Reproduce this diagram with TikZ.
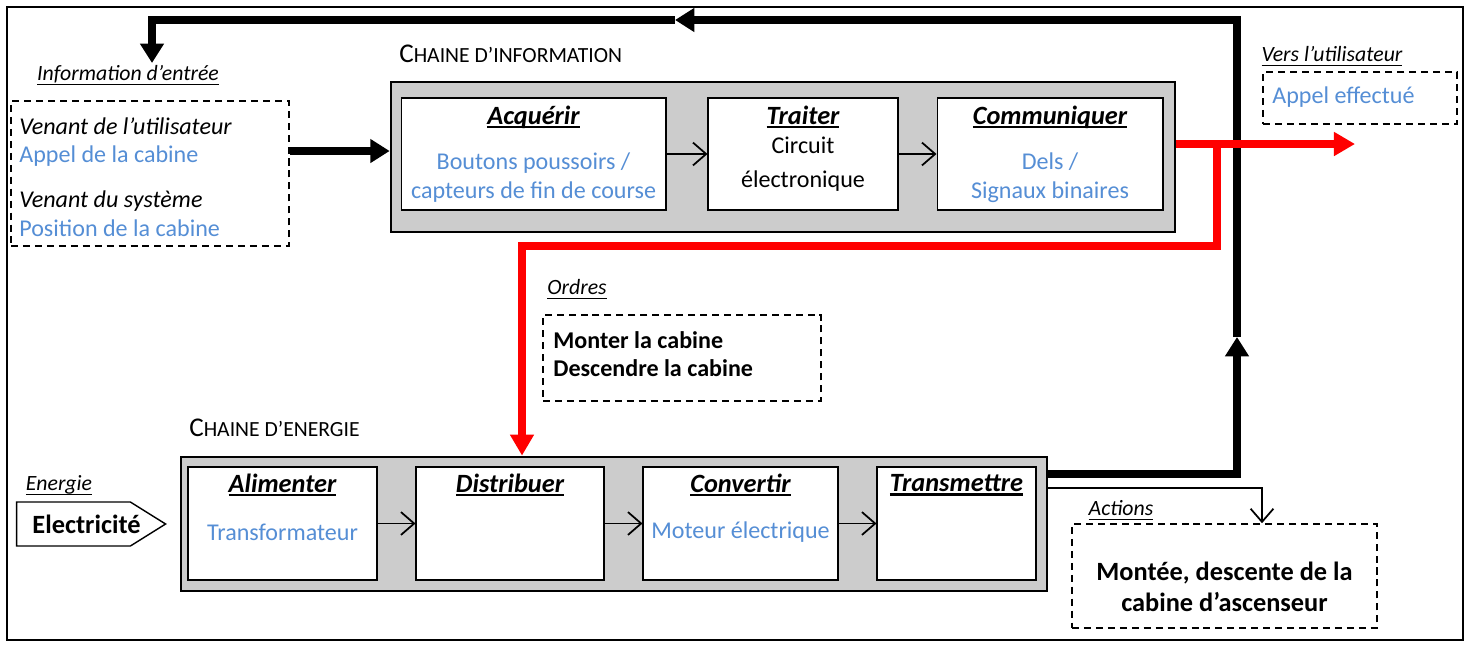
\documentclass[tikz,border=0pt]{standalone}
\usepackage{fontspec}
\setmainfont{Carlito}
\usetikzlibrary{arrows.meta,shapes.symbols}
\definecolor{ink}{HTML}{000000}
\definecolor{bleu}{HTML}{558ED5}
\definecolor{rouge}{HTML}{FF0000}
\definecolor{gris}{HTML}{CCCCCC}

\newsavebox\ulbox
\newcommand\souligne[2][0.6pt]{\sbox\ulbox{#2}\rlap{\rule[-2.4pt]{\wd\ulbox}{#1}}\usebox\ulbox}
\newcommand\petitcap[2]{{\fontsize{15.4}{17}\selectfont #1}{\fontsize{12.3}{14}\selectfont #2}}

\tikzset{
  chaine/.style={draw=ink,line width=1.6pt,fill=gris},
  bloc/.style={draw=ink,line width=0.6pt,fill=white,minimum height=2.26cm},
  tirets/.style={draw=ink,line width=0.9pt,dash pattern=on 4pt off 2.8pt},
  titre/.style={font=\fontsize{15}{17}\selectfont\bfseries\itshape},
  etiq/.style={font=\fontsize{12.4}{14}\selectfont\itshape},
  gras/.style={font=\fontsize{13.7}{16}\selectfont\bfseries},
  flux/.style={ink,line width=4pt,-{Triangle[length=11pt,width=13pt]}},
  ordre/.style={rouge,line width=4.5pt,-{Triangle[length=12pt,width=13pt]}},
  fleche/.style={ink,line width=1pt,-{Straight Barb[length=7.5pt,width=13pt]}},
}

\begin{document}
\begin{tikzpicture}[x=0.02cm,y=-0.02cm,inner sep=0pt,font=\fontsize{13.7}{16.4}\selectfont]
  \useasboundingbox (0,0) rectangle (1471,646);
  % cadre
  \draw[ink,line width=1.1pt] (7,7) rectangle (1463,640);

  % entree
  \node[etiq] (inT) at (128,75) {\souligne{Information d’entrée}};
  \node[tirets,minimum width=5.56cm,minimum height=2.9cm] (inbox) at (150,173.5) {};
  \node[anchor=west,align=left] (inC) at (19,177) {\textit{Venant de l’utilisateur}\\\textcolor{bleu}{Appel de la cabine}\\[9pt]\textit{Venant du système}\\\textcolor{bleu}{Position de la cabine}};

  % chaine d'information
  \node[anchor=west] (infoT) at (399,54) {\petitcap{C}{HAINE D’INFORMATION}};
  \node[chaine,minimum width=15.68cm,minimum height=3cm] (info) at (783,157) {};
  \node[bloc,minimum width=5.3cm,minimum height=2.24cm] (acq) at (533.5,154) {};
  \node[bloc,minimum width=3.8cm,minimum height=2.24cm] (trai) at (803,154) {};
  \node[bloc,minimum width=4.52cm,minimum height=2.24cm] (comm) at (1050,154) {};
  \node[titre] (acqT) at (533.5,117) {\souligne[1.3pt]{Acquérir}};
  \node[titre] (traiT) at (803,117) {\souligne[1.3pt]{Traiter}};
  \node[titre] (commT) at (1050,117) {\souligne[1.3pt]{Communiquer}};
  \node[text=bleu,align=center] (acqC) at (533.5,177.5) {Boutons poussoirs /\\capteurs de fin de course};
  \node[align=center] (traiC) at (803,164) {Circuit\\[2.9pt]électronique};
  \node[text=bleu,align=center] (commC) at (1050,177.5) {Dels /\\Signaux binaires};
  \draw[fleche] (acq) -- (trai);
  \draw[fleche] (trai) -- (comm);

  % vers l'utilisateur
  \node[etiq] (userT) at (1332,56) {\souligne{Vers l’utilisateur}};
  \node[tirets,minimum width=3.88cm,minimum height=1.04cm] (user) at (1360,98) {};
  \node[anchor=west,text=bleu] (userC) at (1272,97) {Appel effectué};

  % ordres
  \node[etiq] (ordT) at (577,289) {\souligne{Ordres}};
  \node[tirets,minimum width=5.56cm,minimum height=1.72cm] (ord) at (682,358) {};
  \node[gras,anchor=west,align=left] (ordC) at (553,354) {Monter la cabine\\Descendre la cabine};

  % chaine d'energie
  \node[anchor=west] (nrjT) at (189,428) {\petitcap{C}{HAINE D’ENERGIE}};
  \node[chaine,minimum width=17.32cm,minimum height=2.68cm] (nrj) at (614,524) {};
  \node[bloc,minimum width=3.78cm] (alim) at (282.5,523.5) {};
  \node[bloc,minimum width=3.76cm] (dist) at (510,523.5) {};
  \node[bloc,minimum width=3.9cm] (conv) at (740.5,523.5) {};
  \node[bloc,minimum width=3.18cm] (trans) at (956.5,523.5) {};
  \node[titre] (alimT) at (282.5,485) {\souligne[1.3pt]{Alimenter}};
  \node[titre] (distT) at (510,485) {\souligne[1.3pt]{Distribuer}};
  \node[titre] (convT) at (740.5,485) {\souligne[1.3pt]{Convertir}};
  \node[titre] (transT) at (956.5,485) {\souligne[1.3pt]{Transmettre}};
  \node[text=bleu] (alimC) at (282.5,532) {Transformateur};
  \node[text=bleu] (convC) at (740.5,532) {Moteur électrique};
  \draw[fleche] (alim) -- (dist);
  \draw[fleche] (dist) -- (conv);
  \draw[fleche] (conv) -- (trans);

  % energie
  \node[etiq] (elecT) at (59,485) {\souligne{Energie}};
  \node[draw=ink,line width=0.8pt,fill=white,shape=signal,signal to=east,signal pointer angle=64,
        minimum width=2.98cm,minimum height=0.88cm] (elec) at (73.5,524) {};
  \node[font=\fontsize{15}{17}\selectfont\bfseries] (elecC) at (86.5,524) {Electricité};

  % actions
  \node[etiq] (actT) at (1121,510) {\souligne{Actions}};
  \node[tirets,minimum width=6.1cm,minimum height=2.08cm] (act) at (1224.5,576) {};
  \node[font=\fontsize{15}{18}\selectfont\bfseries,align=center] (actC) at (1224.5,587) {Montée, descente de la\\cabine d’ascenseur};

  % retour d'information
  \coordinate (coinBD) at (1237,474);
  \coordinate (flecheH) at (1237,337);
  \coordinate (coinHD) at (1237,20);
  \coordinate (flecheG) at (675,20);
  \coordinate (coinHG) at (152,20);
  \coordinate (entree) at (152,63);
  \draw[flux] (coinBD -| nrj.east) -- (coinBD) -- (flecheH);
  \draw[flux] (flecheH) -- (coinHD) -- (flecheG);
  \draw[flux] (flecheG) -- (coinHG) -- (entree);
  \draw[flux] ([yshift=0.12cm]inbox.east |- info.west) -- ([yshift=0.12cm]info.west);

  % ordres rouges
  \coordinate (rbranche) at (1217,144);
  \coordinate (rbas) at (1217,246);
  \coordinate (rcoin) at (522,246);
  \coordinate (sortie) at (1355,144);
  \draw[ordre] (rbranche -| info.east) -- (sortie);
  \draw[ordre] (rbranche) -- (rbas) -- (rcoin) -- (rcoin |- nrj.north);

  % vers actions
  \coordinate (actCoin) at (1262,488);
  \draw[fleche] (actCoin -| nrj.east) -- (actCoin) -- (actCoin |- act.north);
\end{tikzpicture}
\end{document}
